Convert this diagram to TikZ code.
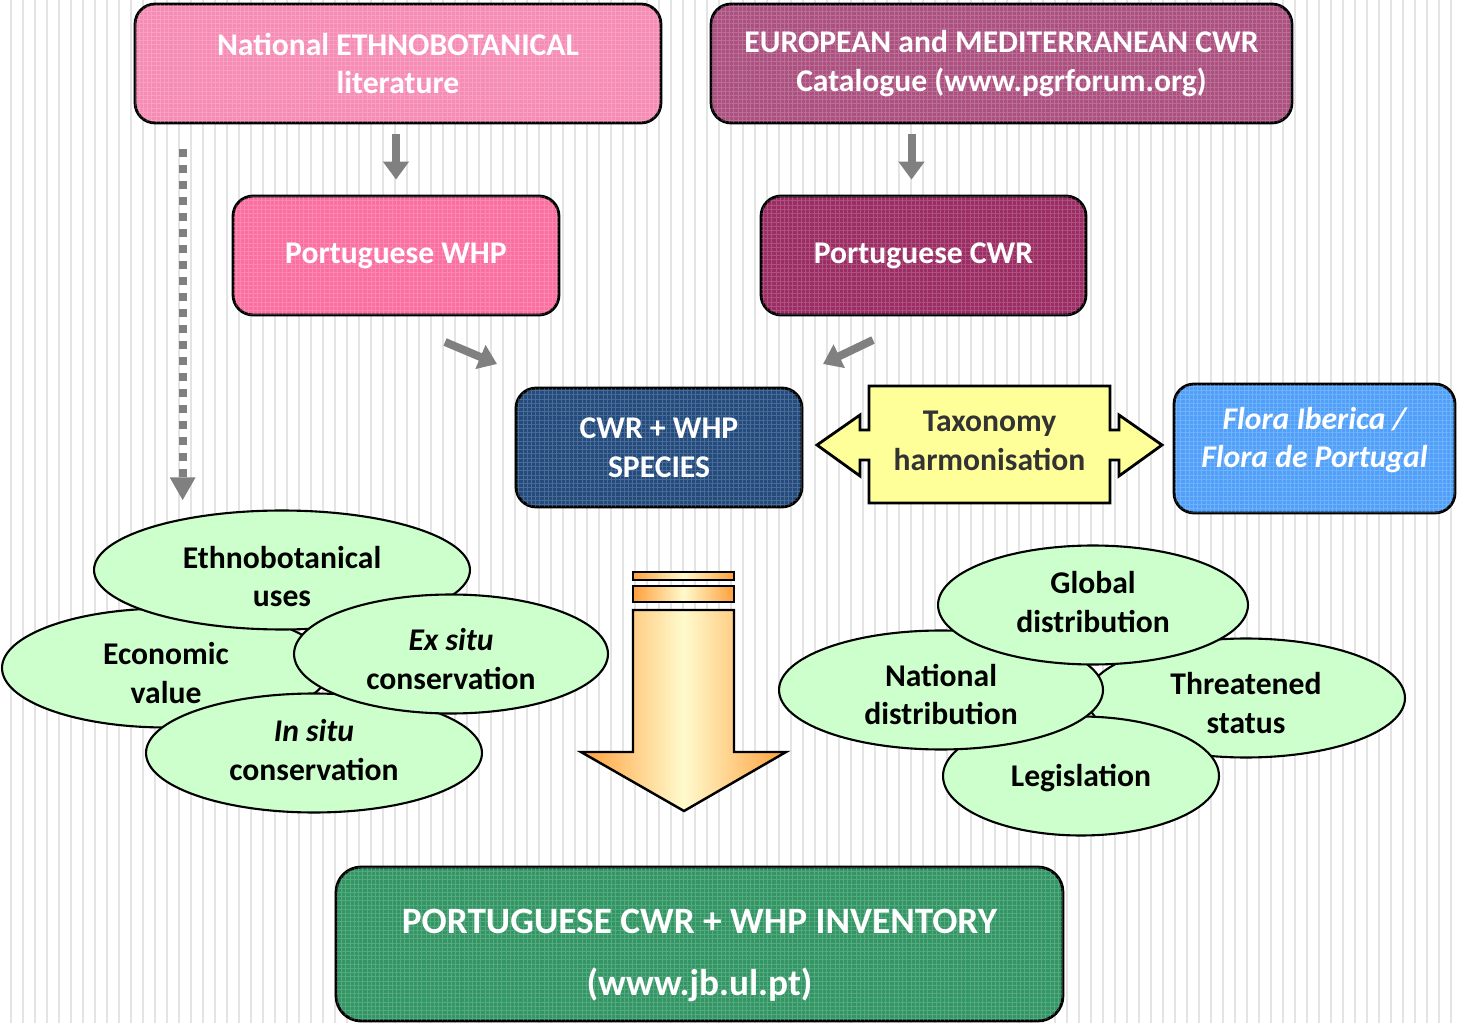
\documentclass[tikz,border=0pt]{standalone}
\usepackage{fontspec}
\setmainfont{Carlito}
\usetikzlibrary{shapes.geometric,arrows.meta,calc,patterns.meta}

\definecolor{ethnopink}{RGB}{246,140,180}
\definecolor{euromauve}{RGB}{172,80,128}
\definecolor{whppink}{RGB}{250,110,160}
\definecolor{cwrpurple}{RGB}{155,45,100}
\definecolor{speciesblue}{RGB}{35,75,125}
\definecolor{florablue}{RGB}{80,160,250}
\definecolor{invgreen}{RGB}{50,150,100}
\definecolor{blobgreen}{RGB}{204,255,204}
\definecolor{taxyellow}{RGB}{255,255,153}
\definecolor{arrowgray}{RGB}{128,128,128}
\definecolor{linegray}{RGB}{228,228,228}
\definecolor{arrowedge}{RGB}{255,160,60}
\definecolor{arrowmid}{RGB}{255,250,205}

\begin{document}
\begin{tikzpicture}[x=0.02cm, y=-0.02cm,
    box/.style={
        draw,
        line width=1.6pt,
        rounded corners=0.4cm,
        minimum height=2.38cm,
        align=center,
        text=white,
        font=\bfseries\fontsize{18}{22}\selectfont,
        postaction={pattern={Hatch[angle=0,distance=2.4pt,line width=0.35pt]},
                    pattern color=white, opacity=0.18}
    },
    blob/.style={
        ellipse,
        draw,
        line width=1.2pt,
        fill=blobgreen,
        minimum height=2.38cm,
        inner sep=0pt
    },
    blobtext/.style={
        align=center,
        font=\bfseries\fontsize{18}{22}\selectfont
    },
    grayarrow/.style={
        draw=arrowgray,
        line width=0.16cm,
        -{Triangle[length=0.36cm,width=0.5cm]}
    },
    bigshade/.style={
        draw,
        line width=1.4pt,
        left color=arrowedge,
        right color=arrowedge,
        middle color=arrowmid
    }
]

\useasboundingbox (0,0) rectangle (1457,1023);

%%%%%%%%%%%%%%%%%%%%%%%%
% Fondo de rayas
%%%%%%%%%%%%%%%%%%%%%%%%

\foreach \i in {0,...,120}
    \draw[linegray, line width=0.9pt] ({11+12*\i},0) -- ({11+12*\i},1023);

%%%%%%%%%%%%%%%%%%%%%%%%
% Fuentes
%%%%%%%%%%%%%%%%%%%%%%%%

% --- Fila 1 ---
\node[box, fill=ethnopink, minimum width=10.52cm] (ethno) at (398,63.5)
    {National ETHNOBOTANICAL\\literature};
\node[box, fill=euromauve, minimum width=11.62cm] (euro) at (1001.5,63.5)
    {EUROPEAN and MEDITERRANEAN CWR\\Catalogue (www.pgrforum.org)};

% --- Fila 2 ---
\node[box, fill=whppink, minimum width=6.52cm] (whp) at (396,255.5) {Portuguese WHP};
\node[box, fill=cwrpurple, minimum width=6.5cm] (cwr) at (923.5,255.5) {Portuguese CWR};

% --- Fila 3 ---
\node[box, fill=speciesblue, minimum width=5.72cm] (species) at (659,447.5)
    {CWR + WHP\\SPECIES};
\node[box, fill=florablue, minimum width=5.62cm, minimum height=2.58cm] (flora)
    at (1314.5,448.5) {};
\node[align=center, text=white, font=\bfseries\itshape\fontsize{18}{21.5}\selectfont]
    (floratext) at (1314.5,440) {Flora Iberica /\\Flora de Portugal};

% Flecha doble de taxonomia
\fill[taxyellow, draw=black, line width=1.6pt]
    (817,445) -- (860,415) -- (860,430) -- (869,430) -- (869,386)
    -- (1110,386) -- (1110,430) -- (1119,430) -- (1119,415) -- (1162,445)
    -- (1119,476) -- (1119,460) -- (1110,460) -- (1110,503) -- (869,503)
    -- (869,460) -- (860,460) -- (860,476) -- cycle;
\node[align=center, text=black!80, font=\bfseries\fontsize{18}{22}\selectfont]
    (tax) at (989.5,441) {Taxonomy\\harmonisation};

%%%%%%%%%%%%%%%%%%%%%%%%
% Flechas grises
%%%%%%%%%%%%%%%%%%%%%%%%

\coordinate (eurodown) at ($(cwr.north)+(-12,0)$);
\draw[grayarrow, shorten <=0.2cm, shorten >=0.3cm] (ethno.south -| whp.north) -- (whp.north);
\draw[grayarrow, shorten <=0.2cm, shorten >=0.3cm] (eurodown |- euro.south) -- (eurodown);

\coordinate (whpout) at (445,342);
\coordinate (whpin) at (497,364);
\coordinate (cwrout) at (873,340);
\coordinate (cwrin) at (823,364);
\draw[grayarrow] (whpout) -- (whpin);
\draw[grayarrow] (cwrout) -- (cwrin);

%%%%%%%%%%%%%%%%%%%%%%%%
% Elipses izquierda
%%%%%%%%%%%%%%%%%%%%%%%%

\node[blob, minimum width=6.56cm] (econ) at (166,668) {};
\node[blobtext] (econtext) at (166,673) {Economic\\value};

\node[blob, minimum width=6.72cm] (insitu) at (314,753) {};
\node[blobtext] (insitutext) at (314,750) {\textit{In situ}\\conservation};

\node[blob, minimum width=7.52cm] (uses) at (282,570) {};
\node[blobtext] (usestext) at (282,576.5) {Ethnobotanical\\uses};

\node[blob, minimum width=6.28cm] (exsitu) at (451,654) {};
\node[blobtext] (exsitutext) at (451,659) {\textit{Ex situ}\\conservation};

% Flecha punteada
\coordinate (dottop) at ($(ethno.south west)+(49,0)$);
\draw[grayarrow, dash pattern=on 0.16cm off 0.16cm, shorten <=0.5cm, shorten >=0.18cm,
      -{Triangle[length=0.46cm,width=0.48cm]}]
    (dottop) -- (dottop |- uses.north);

%%%%%%%%%%%%%%%%%%%%%%%%
% Elipses derecha
%%%%%%%%%%%%%%%%%%%%%%%%

\node[blob, minimum width=6.36cm] (threat) at (1246,698) {};
\node[blobtext] (threattext) at (1246,703) {Threatened\\status};

\node[blob, minimum width=5.52cm] (legis) at (1081,776) {};
\node[blobtext] (legistext) at (1081,778) {Legislation};

\node[blob, minimum width=6.48cm] (natdist) at (941,690) {};
\node[blobtext] (natdisttext) at (941,694.5) {National\\distribution};

\node[blob, minimum width=6.2cm] (global) at (1093,605) {};
\node[blobtext] (globaltext) at (1093,602) {Global\\distribution};

%%%%%%%%%%%%%%%%%%%%%%%%
% Flecha grande
%%%%%%%%%%%%%%%%%%%%%%%%

\path[bigshade] (633,572) rectangle (734,580);
\path[bigshade] (633,586) rectangle (734,602);
\path[bigshade] (633,610) -- (734,610) -- (734,752) -- (786,752) -- (684,811)
    -- (581,752) -- (633,752) -- cycle;

%%%%%%%%%%%%%%%%%%%%%%%%
% Resultado
%%%%%%%%%%%%%%%%%%%%%%%%

\node[box, fill=invgreen, minimum width=14.54cm, minimum height=3.08cm,
      rounded corners=0.5cm] (inventory) at (699.5,944) {};
\node[align=center, text=white, font=\bfseries\fontsize{21.2}{35}\selectfont]
    (inventorytext) at (699.5,955.5) {PORTUGUESE CWR + WHP INVENTORY\\(www.jb.ul.pt)};

\end{tikzpicture}
\end{document}
